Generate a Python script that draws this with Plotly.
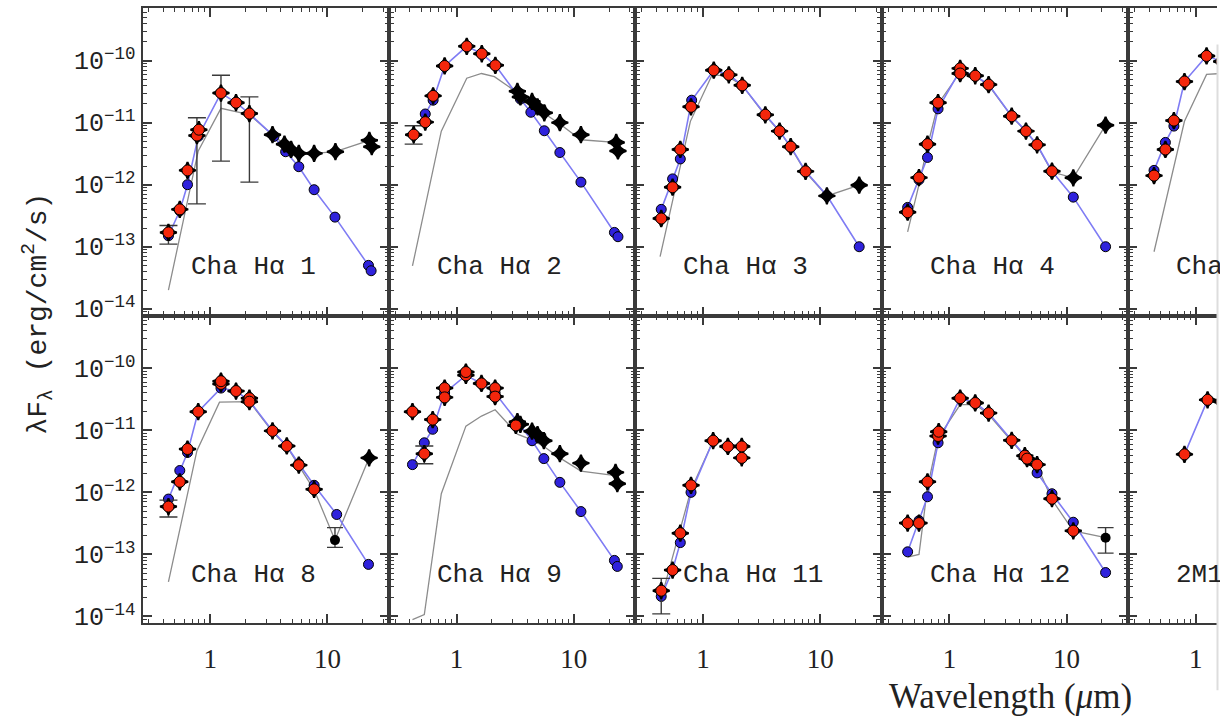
import plotly.graph_objects as go
from plotly.subplots import make_subplots

# Spectral energy distributions: wavelength [micron], lambda*F_lambda [erg/cm^2/s]
#   *_phot  : dereddened photometry (red circles)
#   *_model : photospheric model (blue circles + line)
#   *_ir    : observed infrared fluxes (black stars)
#   *_obs   : observed SED (thin gray line)
#   *_err   : error bars on photometry (wl, flux, low, high)
#   *_det   : single detections with error bars (black dots)

ha1_phot = [(0.44, 1.7e-13), (0.55, 4.0e-13), (0.64, 1.7e-12), (0.77, 6.2e-12), (0.80, 7.7e-12),
            (1.235, 3.0e-11), (1.66, 2.1e-11), (2.16, 1.4e-11)]
ha1_model = [(0.44, 1.5e-13), (0.55, 3.8e-13), (0.64, 1.0e-12), (0.79, 6.0e-12), (1.235, 3.0e-11),
             (1.66, 2.1e-11), (2.16, 1.4e-11), (3.5, 6.0e-12), (4.4, 3.4e-12), (5.7, 1.95e-12),
             (7.7, 8.3e-13), (11.6, 3.0e-13), (22.4, 5.0e-14), (23.6, 4.1e-14)]
ha1_ir = [(3.4, 6.4e-12), (4.3, 4.5e-12), (4.9, 3.7e-12), (5.7, 3.2e-12), (7.7, 3.2e-12),
          (11.7, 3.4e-12), (22.8, 5.2e-12), (23.9, 4.1e-12)]
ha1_obs = [(0.44, 2.0e-14), (0.79, 3.5e-12), (1.235, 1.7e-11), (1.66, 1.5e-11), (2.16, 1.35e-11),
           (3.4, 6.4e-12), (4.3, 4.5e-12), (4.9, 3.7e-12), (5.7, 3.2e-12), (7.7, 3.2e-12),
           (11.7, 3.4e-12), (22.8, 5.2e-12), (23.9, 4.1e-12)]
ha1_err = [(0.44, 1.7e-13, 1.1e-13, 2.2e-13), (0.77, 6.2e-12, 4.9e-13, 1.2e-11),
           (1.235, 3.0e-11, 2.4e-12, 5.8e-11), (2.16, 1.4e-11, 1.1e-12, 2.6e-11)]

ha2_phot = [(0.43, 6.4e-12), (0.54, 1.02e-11), (0.63, 2.7e-11), (0.79, 8.2e-11), (1.22, 1.7e-10),
            (1.64, 1.29e-10), (2.14, 8.4e-11)]
ha2_model = [(0.54, 1.38e-11), (0.63, 2.3e-11), (0.79, 8.2e-11), (1.22, 1.7e-10), (1.64, 1.29e-10),
             (2.14, 8.4e-11), (3.5, 2.4e-11), (4.3, 1.47e-11), (5.6, 7.4e-12), (7.6, 3.3e-12),
             (11.5, 1.1e-12), (22.2, 1.7e-13), (23.8, 1.45e-13)]
ha2_ir = [(3.3, 3.2e-11), (3.5, 2.6e-11), (4.4, 2.2e-11), (4.9, 1.8e-11), (5.6, 1.44e-11),
          (7.6, 1.0e-11), (11.5, 6.4e-12), (23.0, 4.8e-12), (23.8, 3.5e-12)]
ha2_obs = [(0.42, 4.9e-14), (0.74, 7.3e-12), (1.22, 5.2e-11), (1.63, 6.2e-11), (2.1, 5.5e-11),
           (3.3, 3.0e-11), (4.4, 2.1e-11), (5.6, 1.4e-11), (7.6, 9.5e-12), (11.5, 5.3e-12),
           (22.5, 4.8e-12)]
ha2_err = [(0.43, 6.4e-12, 4.5e-12, 8.9e-12)]

ha3_phot = [(0.44, 2.85e-13), (0.55, 9.1e-13), (0.64, 3.7e-12), (0.79, 1.8e-11), (1.235, 7.0e-11),
            (1.66, 5.9e-11), (2.16, 4.0e-11), (3.4, 1.34e-11), (4.5, 7.3e-12), (5.6, 4.1e-12),
            (7.5, 1.64e-12)]
ha3_model = [(0.44, 4.0e-13), (0.55, 1.24e-12), (0.64, 2.6e-12), (0.80, 2.3e-11), (1.235, 7.0e-11),
             (1.66, 5.9e-11), (2.16, 4.0e-11), (3.4, 1.34e-11), (4.5, 7.3e-12), (5.6, 4.1e-12),
             (7.5, 1.64e-12), (11.4, 6.7e-13), (21.5, 1.0e-13)]
ha3_ir = [(11.4, 6.6e-13), (21.5, 9.8e-13)]
ha3_obs = [(0.43, 6.9e-14), (0.78, 1.05e-11), (1.2, 6.0e-11), (1.63, 5.5e-11), (2.16, 4.0e-11),
           (3.4, 1.3e-11), (4.5, 7.2e-12), (5.6, 4.0e-12), (7.5, 1.6e-12), (11.4, 6.6e-13),
           (21.5, 9.8e-13)]
ha3_err = []

ha4_phot = [(0.44, 3.6e-13), (0.55, 1.3e-12), (0.65, 4.5e-12), (0.80, 2.1e-11), (1.235, 7.5e-11),
            (1.235, 6.2e-11), (1.66, 5.7e-11), (2.16, 4.1e-11), (3.4, 1.27e-11), (4.5, 7.3e-12),
            (5.6, 4.4e-12), (7.5, 1.65e-12)]
ha4_model = [(0.44, 4.3e-13), (0.55, 1.2e-12), (0.65, 2.75e-12), (0.80, 1.67e-11), (1.235, 7.0e-11),
             (1.66, 5.7e-11), (2.16, 4.1e-11), (3.4, 1.27e-11), (4.5, 7.3e-12), (5.6, 4.4e-12),
             (7.5, 1.65e-12), (11.4, 6.3e-13), (21.5, 1.0e-13)]
ha4_ir = [(11.4, 1.29e-12), (21.5, 9.1e-12)]
ha4_obs = [(0.44, 1.74e-13), (0.55, 1.0e-12), (0.65, 4.2e-12), (0.80, 2.0e-11), (1.235, 6.5e-11),
           (1.66, 5.6e-11), (2.16, 4.0e-11), (3.4, 1.25e-11), (4.5, 7.2e-12), (5.6, 4.3e-12),
           (7.5, 1.6e-12), (11.4, 1.29e-12), (21.5, 9.1e-12)]
ha4_err = []

ha5_phot = [(0.44, 1.4e-12), (0.55, 3.7e-12), (0.65, 1.08e-11), (0.80, 4.6e-11), (1.235, 1.19e-10),
            (1.66, 9.7e-11)]
ha5_model = [(0.44, 1.7e-12), (0.55, 4.8e-12), (0.65, 8.8e-12), (0.80, 4.6e-11), (1.235, 1.19e-10),
             (1.66, 9.7e-11)]
ha5_ir = []
ha5_obs = [(0.44, 8.3e-14), (0.80, 1.05e-11), (1.235, 6.0e-11), (1.66, 6.2e-11)]
ha5_err = []

ha8_phot = [(0.44, 5.9e-13), (0.55, 1.48e-12), (0.64, 5.0e-12), (0.79, 2.0e-11), (1.235, 5.6e-11),
            (1.235, 6.2e-11), (1.66, 4.3e-11), (2.16, 3.3e-11), (2.16, 2.9e-11), (3.4, 9.8e-12),
            (4.5, 5.6e-12), (5.7, 2.75e-12), (7.7, 1.12e-12)]
ha8_model = [(0.44, 7.8e-13), (0.55, 2.25e-12), (0.64, 4.4e-12), (0.79, 2.0e-11), (1.235, 4.8e-11),
             (1.66, 4.3e-11), (2.16, 3.0e-11), (3.4, 9.8e-12), (4.5, 5.6e-12), (5.7, 2.9e-12),
             (7.7, 1.3e-12), (12.0, 4.4e-13), (22.4, 6.9e-14)]
ha8_ir = [(22.7, 3.6e-12)]
ha8_obs = [(0.44, 3.6e-14), (0.77, 4.7e-12), (1.2, 2.85e-11), (2.16, 2.9e-11), (3.4, 9.5e-12),
           (4.5, 5.5e-12), (5.7, 2.7e-12), (7.7, 1.1e-12), (11.6, 1.7e-13), (22.7, 3.6e-12)]
ha8_err = [(0.44, 5.9e-13, 4.0e-13, 7.5e-13)]
ha8_det = [(11.6, 1.7e-13, 1.3e-13, 2.7e-13)]

ha9_phot = [(0.42, 2.0e-11), (0.53, 4.2e-12), (0.625, 1.49e-11), (0.79, 4.8e-11), (0.79, 3.4e-11),
            (1.2, 7.7e-11), (1.2, 8.7e-11), (1.63, 5.7e-11), (2.13, 4.8e-11), (2.13, 3.5e-11),
            (3.2, 1.2e-11)]
ha9_model = [(0.42, 2.8e-12), (0.53, 6.3e-12), (0.625, 1.04e-11), (0.79, 4.0e-11), (1.2, 7.7e-11),
             (1.63, 5.7e-11), (2.13, 4.0e-11), (3.4, 1.3e-11), (4.4, 6.8e-12), (5.55, 3.5e-12),
             (7.6, 1.45e-12), (11.5, 4.9e-13), (22.2, 8.0e-14), (23.5, 6.4e-14)]
ha9_ir = [(3.3, 1.38e-11), (3.5, 1.25e-11), (4.4, 9.7e-12), (4.9, 8.5e-12), (5.55, 6.8e-12),
          (7.6, 4.2e-12), (11.5, 2.96e-12), (22.7, 2.1e-12), (23.5, 1.38e-12)]
ha9_obs = [(0.42, 8.9e-15), (0.53, 1.07e-14), (0.74, 9.5e-13), (1.2, 1.17e-11), (1.63, 1.7e-11),
           (2.13, 2.15e-11), (3.3, 8.7e-12), (4.4, 7.0e-12), (5.55, 5.5e-12), (7.6, 3.6e-12),
           (11.5, 2.2e-12), (22.7, 1.86e-12)]
ha9_err = [(0.53, 4.2e-12, 2.9e-12, 5.6e-12)]

ha11_phot = [(0.44, 2.6e-14), (0.55, 5.6e-14), (0.64, 2.2e-13), (0.79, 1.3e-12), (1.22, 6.8e-12),
             (1.63, 5.5e-12), (2.14, 5.5e-12), (2.14, 3.6e-12)]
ha11_model = [(0.44, 2.1e-14), (0.55, 5.6e-14), (0.64, 1.55e-13), (0.79, 1.0e-12), (1.22, 6.8e-12)]
ha11_ir = []
ha11_obs = [(0.44, 1.96e-14), (0.79, 1.1e-12), (1.22, 6.8e-12)]
ha11_err = [(0.44, 2.6e-14, 1.1e-14, 4.1e-14)]

ha12_phot = [(0.44, 3.2e-13), (0.55, 3.2e-13), (0.65, 1.48e-12), (0.80, 8.1e-12), (0.81, 9.5e-12),
             (1.235, 3.3e-11), (1.66, 2.76e-11), (2.16, 1.9e-11), (3.4, 6.9e-12), (4.4, 3.9e-12),
             (4.6, 3.5e-12), (5.6, 2.8e-12), (7.5, 7.9e-13), (11.4, 2.4e-13)]
ha12_model = [(0.44, 1.1e-13), (0.55, 3.5e-13), (0.65, 8.5e-13), (0.80, 6.3e-12), (1.235, 3.3e-11),
              (1.66, 2.76e-11), (2.16, 1.9e-11), (3.4, 6.9e-12), (4.4, 3.9e-12), (5.6, 2.06e-12),
              (7.5, 9.5e-13), (11.4, 3.3e-13), (21.5, 5.1e-14)]
ha12_ir = []
ha12_obs = [(0.44, 9.0e-14), (0.55, 1.0e-13), (0.65, 1.2e-12), (0.80, 7.5e-12), (1.235, 2.6e-11),
            (1.66, 2.6e-11), (2.16, 1.8e-11), (3.4, 6.7e-12), (4.4, 3.8e-12), (5.6, 2.7e-12),
            (7.5, 7.6e-13), (11.4, 2.4e-13), (21.5, 1.86e-13)]
ha12_err = []
ha12_det = [(21.5, 1.86e-13, 1.05e-13, 2.7e-13)]

m1_phot = [(0.80, 4.1e-12), (1.26, 3.1e-11), (1.66, 2.9e-11)]
m1_model = [(0.80, 4.1e-12), (1.26, 3.1e-11), (1.66, 2.9e-11)]

# (label, row, col, phot, model, ir, obs, err, det)
PANELS = [
    ("Cha Hα 1", 1, 1, ha1_phot, ha1_model, ha1_ir, ha1_obs, ha1_err, []),
    ("Cha Hα 2", 1, 2, ha2_phot, ha2_model, ha2_ir, ha2_obs, ha2_err, []),
    ("Cha Hα 3", 1, 3, ha3_phot, ha3_model, ha3_ir, ha3_obs, ha3_err, []),
    ("Cha Hα 4", 1, 4, ha4_phot, ha4_model, ha4_ir, ha4_obs, ha4_err, []),
    ("Cha", 1, 5, ha5_phot, ha5_model, ha5_ir, ha5_obs, ha5_err, []),
    ("Cha Hα 8", 2, 1, ha8_phot, ha8_model, ha8_ir, ha8_obs, ha8_err, ha8_det),
    ("Cha Hα 9", 2, 2, ha9_phot, ha9_model, ha9_ir, ha9_obs, ha9_err, []),
    ("Cha Hα 11", 2, 3, ha11_phot, ha11_model, ha11_ir, ha11_obs, ha11_err, []),
    ("Cha Hα 12", 2, 4, ha12_phot, ha12_model, ha12_ir, ha12_obs, ha12_err, ha12_det),
    ("2M1", 2, 5, m1_phot, m1_model, [], [], [], []),
]

Y_TICKS = [1e-14, 1e-13, 1e-12, 1e-11, 1e-10]
Y_TICKTEXT = ["10<sup>−14</sup>", "10<sup>−13</sup>", "10<sup>−12</sup>",
              "10<sup>−11</sup>", "10<sup>−10</sup>"]
X_TICKS = [1, 10]
X_TICKTEXT = ["1", "10"]

# ---- page geometry (pixels) ----
W, H = 1220, 723
COL_LEFT = [142.6, 389.0, 635.4, 881.8, 1128.2]
COL_W = 246.4
LAST_RIGHT = 1217.0
ROWS = [(8.0, 320.0), (320.0, 632.0)]
PX_PER_DEC = 117.2
XLOG_MIN = -0.577
YLOG_RANGE = [-14.11, -9.15]

AX_COLOR = "#3a3a3a"
RED = "#f4260c"
BLUE = "#2f22dc"
BLUE_LINE = "#7f7cf4"
GRAY = "#8c8c8c"

MONO = "Liberation Mono, Courier New, monospace"
SERIF = "Liberation Serif, Times New Roman, serif"

fig = make_subplots(rows=2, cols=5, horizontal_spacing=0, vertical_spacing=0)


def xs(pts):
    return [p[0] for p in pts]


def ys(pts):
    return [p[1] for p in pts]


STAR = dict(symbol="star-diamond", size=12, color="black", line=dict(color="black", width=2))

for label, r, c, phot, model, ir, obs, err, det in PANELS:
    if obs:
        fig.add_trace(go.Scatter(x=xs(obs), y=ys(obs), mode="lines",
                                 line=dict(color=GRAY, width=1.3),
                                 showlegend=False, hoverinfo="skip"), row=r, col=c)
    fig.add_trace(go.Scatter(x=xs(model), y=ys(model), mode="lines+markers",
                             line=dict(color=BLUE_LINE, width=1.6),
                             marker=dict(size=10, color=BLUE, line=dict(color="black", width=1)),
                             showlegend=False), row=r, col=c)
    if ir:
        fig.add_trace(go.Scatter(x=xs(ir), y=ys(ir), mode="markers", marker=STAR,
                                 showlegend=False), row=r, col=c)
    for wl, f, lo, hi in det:
        fig.add_trace(go.Scatter(x=[wl], y=[f], mode="markers",
                                 marker=dict(size=10, color="black"),
                                 error_y=dict(type="data", symmetric=False, array=[hi - f],
                                              arrayminus=[f - lo], color=AX_COLOR,
                                              thickness=1.4, width=8),
                                 showlegend=False), row=r, col=c)
    if err:
        fig.add_trace(go.Scatter(x=[e[0] for e in err], y=[e[1] for e in err], mode="markers",
                                 marker=dict(size=1, color="rgba(0,0,0,0)"),
                                 error_y=dict(type="data", symmetric=False,
                                              array=[e[3] - e[1] for e in err],
                                              arrayminus=[e[1] - e[2] for e in err],
                                              color=AX_COLOR, thickness=1.4, width=9),
                                 showlegend=False, hoverinfo="skip"), row=r, col=c)
    fig.add_trace(go.Scatter(x=xs(phot), y=ys(phot), mode="markers", marker=STAR,
                             showlegend=False, hoverinfo="skip"), row=r, col=c)
    fig.add_trace(go.Scatter(x=xs(phot), y=ys(phot), mode="markers",
                             marker=dict(size=11, color=RED, line=dict(color="black", width=1)),
                             showlegend=False), row=r, col=c)

    idx = (r - 1) * 5 + c
    sfx = "" if idx == 1 else str(idx)
    left = COL_LEFT[c - 1]
    right = LAST_RIGHT if c == 5 else left + COL_W
    top, bottom = ROWS[r - 1]
    width_px = right - left

    minor = dict(ticks="inside", ticklen=4.5, tickwidth=1.2, tickcolor=AX_COLOR,
                 dtick="D1", showgrid=False)
    common = dict(type="log", showline=True, linewidth=2, linecolor=AX_COLOR,
                  ticks="inside", ticklen=9, tickwidth=1.5, tickcolor=AX_COLOR,
                  showgrid=False, zeroline=False, minor=minor)

    fig.layout["xaxis" + sfx].update(
        domain=[left / W, right / W],
        range=[XLOG_MIN, XLOG_MIN + width_px / PX_PER_DEC],
        tickmode="array", tickvals=X_TICKS, ticktext=X_TICKTEXT,
        showticklabels=(r == 2), ticklabelstandoff=10,
        tickfont=dict(family=SERIF, size=27, color="#222"),
        mirror="allticks", **common)
    fig.layout["yaxis" + sfx].update(
        domain=[1 - bottom / H, 1 - top / H],
        range=YLOG_RANGE,
        tickmode="array", tickvals=Y_TICKS, ticktext=Y_TICKTEXT,
        showticklabels=(c == 1),
        tickfont=dict(family=MONO, size=25, color="#222"),
        mirror=(False if c == 5 else "allticks"), **common)

    fig.add_annotation(text=label, xref=f"x{sfx} domain", yref=f"y{sfx} domain",
                       x=46 / width_px, y=49 / (bottom - top), xanchor="left", yanchor="middle",
                       showarrow=False, font=dict(family=MONO, size=26, color="#222"))

fig.add_annotation(text="λF<sub>λ</sub> (erg/cm<sup>2</sup>/s)", xref="paper", yref="paper",
                   x=38 / W, y=1 - 318 / H, textangle=-90, showarrow=False,
                   xanchor="center", yanchor="middle",
                   font=dict(family=MONO, size=28, color="#222"))
fig.add_annotation(text="Wavelength (<i>μ</i>m)", xref="paper", yref="paper",
                   x=1010 / W, y=1 - 706 / H, showarrow=False,
                   xanchor="center", yanchor="middle",
                   font=dict(family=SERIF, size=35, color="#222"))

fig.add_shape(type="line", xref="paper", yref="paper",
              x0=1217.5 / W, x1=1217.5 / W, y0=1 - 700 / H, y1=1 - 45 / H,
              line=dict(color="#dddddd", width=2))

fig.update_layout(width=W, height=H, margin=dict(l=0, r=0, t=0, b=0),
                  paper_bgcolor="white", plot_bgcolor="white")

fig.write_html("out.html")
